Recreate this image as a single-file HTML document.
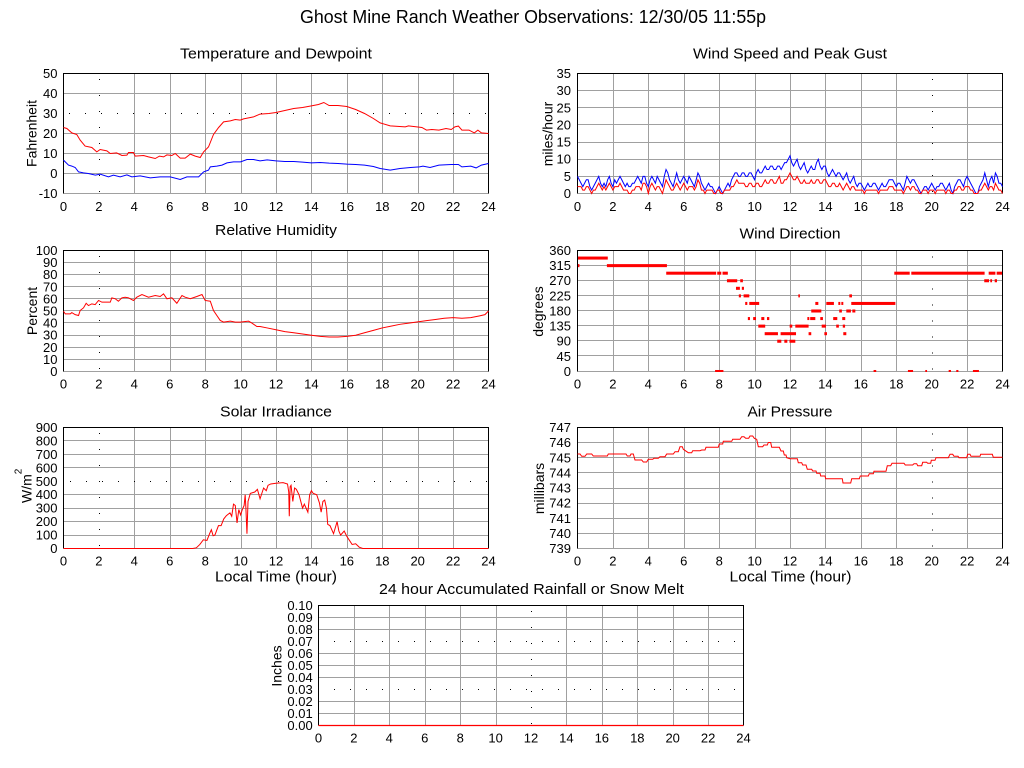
<!DOCTYPE html>
<html><head><meta charset="utf-8"><style>
html,body{margin:0;padding:0;background:#fff}
svg{display:block}
.g{stroke:#a0a0a0;stroke-width:1;fill:none;shape-rendering:crispEdges}
.d{stroke:#000;stroke-width:1;fill:none;stroke-dasharray:1 15;shape-rendering:crispEdges}
.f{stroke:#000;stroke-width:1;fill:none;shape-rendering:crispEdges}
.r{stroke:#f00;stroke-width:1;fill:none;vector-effect:non-scaling-stroke}
.b{stroke:#00f;stroke-width:1;fill:none;vector-effect:non-scaling-stroke}
text{fill:#000}
.t{font-size:13px}
.yl text{text-anchor:end}
.xl text{text-anchor:middle}
.pt{font-size:15px;text-anchor:middle}
.al{font-size:14px;text-anchor:middle}
</style></head><body>
<svg width="1024" height="768" viewBox="0 0 1024 768" font-family="'Liberation Sans', Arial, sans-serif">
<defs>
<clipPath id="c4"><rect x="577.5" y="250" width="425" height="122"/></clipPath>
</defs>

<text x="533" y="23" font-size="18" text-anchor="middle" textLength="466" lengthAdjust="spacingAndGlyphs">Ghost Mine Ranch Weather Observations: 12/30/05 11:55p</text>

<!-- ============ P1 Temperature ============ -->
<text class="pt" x="276" y="58.5" textLength="192" lengthAdjust="spacingAndGlyphs">Temperature and Dewpoint</text>
<path class="g" d="M134.5 73.5V193.5M170.5 73.5V193.5M205.5 73.5V193.5M241.5 73.5V193.5M276.5 73.5V193.5M311.5 73.5V193.5M347.5 73.5V193.5M382.5 73.5V193.5M418.5 73.5V193.5M453.5 73.5V193.5M63.5 93.5H488.5M63.5 133.5H488.5M63.5 153.5H488.5M63.5 173.5H488.5M63.5 193.5H488.5"/>
<path class="d" d="M99.5 79V193.5M69 113.5H488.5"/>
<path class="f" d="M63.5 193.5V73.5H488.5V193.5"/>
<g transform="translate(63.5,173.5) scale(17.708,-2)">
<polyline class="r" points="0,23 0.19,22.5 0.47,20.3 0.75,19.5 0.94,16.7 1.22,13.7 1.6,13 1.88,10.8 2.07,12 2.45,11.3 2.64,10 3,10.3 3.3,9 3.58,9.2 3.67,10.5 3.95,10.5 4.05,8.7 4.52,9 4.8,8.3 5.18,7.5 5.42,8.7 5.65,8.3 5.84,9.3 6.12,9 6.31,10 6.59,7.7 6.87,7.7 7.16,9.7 7.44,8.7 7.72,8 7.91,10.8 8.19,13.3 8.47,19.5 8.76,23 9.04,25.8 9.42,26.3 9.7,27 9.98,26.7 10.17,27.3 10.73,28.3 11.1,29.7 11.6,30 12,30.5 12.5,31.5 13,32.5 13.5,33 14,33.8 14.4,34.5 14.7,35.5 15,34 15.5,34 16,33.5 16.5,32 17,30 17.5,27.5 17.88,25.3 18.45,23.8 19.3,23.3 19.48,23.8 20.24,23 20.5,21.7 20.8,22 21.2,21.7 21.6,22.5 21.9,22 22.1,23.3 22.3,23.7 22.5,21.7 22.9,21.7 23.2,20.3 23.4,21.7 23.6,20.3 24,20"/>
<polyline class="b" points="0,6.7 0.28,4.2 0.47,3.7 0.66,3 0.85,0.8 1.13,0.3 1.4,0 1.8,-0.8 2.07,-0.3 2.54,-1.7 2.82,-0.8 3.2,-1.7 3.58,-0.7 3.86,-1.7 4.33,-1.2 4.9,-2.2 5.46,-1.7 6.03,-1.7 6.59,-3 6.97,-1.7 7.63,-1.7 7.91,0.8 8.19,1.7 8.29,3.3 8.66,3.7 8.95,4.2 9.23,5.3 9.6,5.8 10,5.8 10.36,7 10.73,7 11.1,6.3 11.5,6.8 12,6.3 12.5,6 13,6 13.5,5.7 14,5.3 14.5,5.5 15,5.2 15.5,5 16,4.7 16.5,4.5 17,4.2 17.5,3.5 17.88,2.5 18.45,1.7 19,2.5 19.6,3 20.1,3.3 20.3,3.7 20.7,3 21.2,4.2 21.9,4.5 22.3,4.5 22.5,3.3 23,3.7 23.3,2.8 23.6,4.2 24,5"/>
</g>
<g class="t yl"><text x="57.5" y="78">50</text><text x="57.5" y="98">40</text><text x="57.5" y="118">30</text><text x="57.5" y="138">20</text><text x="57.5" y="158">10</text><text x="57.5" y="178">0</text><text x="57.5" y="198">-10</text></g>
<g class="t xl"><text x="63.5" y="211">0</text><text x="98.9" y="211">2</text><text x="134.3" y="211">4</text><text x="169.8" y="211">6</text><text x="205.2" y="211">8</text><text x="240.6" y="211">10</text><text x="276" y="211">12</text><text x="311.4" y="211">14</text><text x="346.8" y="211">16</text><text x="382.3" y="211">18</text><text x="417.7" y="211">20</text><text x="453.1" y="211">22</text><text x="488.5" y="211">24</text></g>
<text class="al" transform="translate(36.5,133.5) rotate(-90)">Fahrenheit</text>

<!-- ============ P2 Wind speed ============ -->
<text class="pt" x="790" y="58.5" textLength="194" lengthAdjust="spacingAndGlyphs">Wind Speed and Peak Gust</text>
<path class="g" d="M613.5 73.5V193.5M648.5 73.5V193.5M684.5 73.5V193.5M719.5 73.5V193.5M755.5 73.5V193.5M790.5 73.5V193.5M825.5 73.5V193.5M861.5 73.5V193.5M896.5 73.5V193.5M967.5 73.5V193.5M577.5 90.5H1002.5M577.5 107.5H1002.5M577.5 124.5H1002.5M577.5 142.5H1002.5M577.5 159.5H1002.5M577.5 176.5H1002.5M577.5 193.5H1002.5"/>
<path class="d" d="M932.5 79V193.5"/>
<path class="f" d="M577.5 193.5V73.5H1002.5V193.5"/>
<g transform="translate(577.5,193.5) scale(17.708,-3.4286)">
<polyline class="b" points="0,5 0.1,4 0.2,3 0.3,2 0.4,3 0.5,4 0.6,4 0.7,2 0.8,1 0.9,2 1,3 1.1,4 1.2,5 1.3,3 1.4,2 1.5,3 1.6,2 1.7,4 1.8,5 1.9,3 2,2 2.1,4 2.2,3 2.3,4 2.4,5 2.5,4 2.6,3 2.7,2 2.8,3 2.9,2 3,2 3.1,3 3.2,3 3.3,4 3.4,5 3.5,4 3.6,3 3.7,5 3.8,5 3.9,3 4,2 4.1,4 4.2,5 4.3,4 4.4,3 4.5,5 4.6,4 4.7,3 4.8,2 4.9,5 5,7 5.1,6 5.2,4 5.3,3 5.4,2 5.5,4 5.6,6 5.7,4 5.8,3 5.9,4 6,5 6.1,4 6.2,3 6.3,5 6.4,4 6.5,3 6.6,2 6.7,4 6.8,6 6.9,5 7,3 7.1,2 7.2,1 7.3,2 7.4,3 7.5,2 7.6,2 7.7,1 7.8,0 7.9,1 8,2 8.1,1 8.2,0 8.3,1 8.4,2 8.5,3 8.6,2 8.7,4 8.8,5 8.9,6 9,6 9.1,5 9.2,5 9.3,6 9.4,6 9.5,5 9.6,5 9.7,6 9.8,6 9.9,5 10,4 10.1,6 10.2,7 10.3,6 10.4,6 10.5,7 10.6,8 10.7,7 10.8,7 10.9,8 11,8 11.1,7 11.2,7 11.3,8 11.4,8 11.5,7 11.6,8 11.7,9 11.8,9 11.9,10 12,11 12.1,9 12.2,8 12.3,9 12.4,10 12.5,8 12.6,7 12.7,8 12.8,9 12.9,7 13,6 13.1,7 13.2,8 13.3,7 13.4,7 13.5,9 13.6,10 13.7,8 13.8,7 13.9,8 14,8 14.1,6 14.2,5 14.3,6 14.4,7 14.5,6 14.6,5 14.7,6 14.8,6 14.9,5 15,4 15.1,5 15.2,6 15.3,4 15.4,3 15.5,4 15.6,5 15.7,3 15.8,2 15.9,3 16,3 16.1,2 16.2,1 16.3,2 16.4,3 16.5,2 16.6,2 16.7,3 16.8,3 16.9,2 17,1 17.1,2 17.2,3 17.3,2 17.4,2 17.5,3 17.6,4 17.7,4 17.8,4 17.9,3 18,2 18.1,3 18.2,3 18.3,2 18.4,1 18.5,3 18.6,5 18.7,4 18.8,3 18.9,4 19,4 19.1,3 19.2,2 19.3,1 19.4,0 19.5,1 19.6,2 19.7,2 19.8,1 19.9,2 20,3 20.1,2 20.2,1 20.3,2 20.4,2 20.5,3 20.6,3 20.7,2 20.8,1 20.9,2 21,3 21.1,1 21.2,0 21.3,2 21.4,3 21.5,4 21.6,4 21.7,3 21.8,2 21.9,4 22,5 22.1,4 22.2,3 22.3,2 22.4,1 22.5,0 22.6,0 22.7,2 22.8,3 22.9,4 23,6 23.1,4 23.2,2 23.3,4 23.4,5 23.5,3 23.6,6 23.7,5 23.8,3 23.9,3 24,2"/>
<polyline class="r" points="0,2 0.1,2 0.2,2 0.3,1 0.4,1 0.5,2 0.6,2 0.7,1 0.8,0 0.9,1 1,1 1.1,2 1.2,3 1.3,2 1.4,1 1.5,2 1.6,1 1.7,2 1.8,3 1.9,2 2,1 2.1,2 2.2,2 2.3,2 2.4,3 2.5,2 2.6,1 2.7,1 2.8,1 2.9,0 3,0 3.1,1 3.2,1 3.3,2 3.4,2 3.5,2 3.6,1 3.7,3 3.8,3 3.9,2 4,0 4.1,2 4.2,3 4.3,2 4.4,1 4.5,2 4.6,2 4.7,1 4.8,0 4.9,2 5,4 5.1,3 5.2,2 5.3,1 5.4,1 5.5,2 5.6,3 5.7,2 5.8,1 5.9,2 6,3 6.1,2 6.2,1 6.3,2 6.4,2 6.5,2 6.6,1 6.7,2 6.8,4 6.9,3 7,1 7.1,1 7.2,0 7.3,1 7.4,1 7.5,1 7.6,1 7.7,0 7.8,0 7.9,1 8,1 8.1,0 8.2,0 8.3,1 8.4,1 8.5,1 8.6,1 8.7,2 8.8,2 8.9,3 9,4 9.1,3 9.2,3 9.3,3 9.4,3 9.5,2 9.6,2 9.7,3 9.8,3 9.9,2 10,2 10.1,3 10.2,3 10.3,2 10.4,2 10.5,3 10.6,4 10.7,3 10.8,3 10.9,4 11,4 11.1,3 11.2,3 11.3,4 11.4,5 11.5,3 11.6,3 11.7,4 11.8,4 11.9,5 12,6 12.1,5 12.2,4 12.3,4 12.4,5 12.5,4 12.6,3 12.7,3 12.8,4 12.9,3 13,3 13.1,3 13.2,4 13.3,3 13.4,3 13.5,4 13.6,4 13.7,3 13.8,3 13.9,4 14,4 14.1,3 14.2,2 14.3,2 14.4,3 14.5,3 14.6,2 14.7,2 14.8,3 14.9,2 15,1 15.1,2 15.2,3 15.3,2 15.4,1 15.5,2 15.6,2 15.7,1 15.8,1 15.9,1 16,1 16.1,1 16.2,0 16.3,1 16.4,1 16.5,1 16.6,1 16.7,1 16.8,1 16.9,1 17,0 17.1,1 17.2,1 17.3,1 17.4,1 17.5,1 17.6,2 17.7,2 17.8,2 17.9,1 18,1 18.1,1 18.2,1 18.3,1 18.4,0 18.5,1 18.6,2 18.7,2 18.8,1 18.9,2 19,2 19.1,1 19.2,1 19.3,0 19.4,0 19.5,1 19.6,1 19.7,1 19.8,0 19.9,1 20,1 20.1,1 20.2,0 20.3,1 20.4,1 20.5,1 20.6,1 20.7,1 20.8,0 20.9,1 21,1 21.1,0 21.2,0 21.3,1 21.4,1 21.5,2 21.6,2 21.7,1 21.8,1 21.9,2 22,2 22.1,2 22.2,1 22.3,1 22.4,0 22.5,0 22.6,0 22.7,1 22.8,1 22.9,2 23,3 23.1,2 23.2,1 23.3,2 23.4,2 23.5,1 23.6,3 23.7,2 23.8,1 23.9,1 24,0"/>
</g>
<g class="t yl"><text x="571" y="78">35</text><text x="571" y="95.1">30</text><text x="571" y="112.3">25</text><text x="571" y="129.4">20</text><text x="571" y="146.6">15</text><text x="571" y="163.7">10</text><text x="571" y="180.9">5</text><text x="571" y="198">0</text></g>
<g class="t xl"><text x="577.5" y="211">0</text><text x="612.9" y="211">2</text><text x="648.3" y="211">4</text><text x="683.8" y="211">6</text><text x="719.2" y="211">8</text><text x="754.6" y="211">10</text><text x="790" y="211">12</text><text x="825.4" y="211">14</text><text x="860.8" y="211">16</text><text x="896.3" y="211">18</text><text x="931.7" y="211">20</text><text x="967.1" y="211">22</text><text x="1002.5" y="211">24</text></g>
<text class="al" transform="translate(552.5,134) rotate(-90)">miles/hour</text>

<!-- ============ P3 RH ============ -->
<text class="pt" x="276" y="235" textLength="122" lengthAdjust="spacingAndGlyphs">Relative Humidity</text>
<path class="g" d="M134.5 250.5V371.5M170.5 250.5V371.5M205.5 250.5V371.5M241.5 250.5V371.5M276.5 250.5V371.5M311.5 250.5V371.5M347.5 250.5V371.5M382.5 250.5V371.5M418.5 250.5V371.5M453.5 250.5V371.5M63.5 262.5H488.5M63.5 274.5H488.5M63.5 286.5H488.5M63.5 298.5H488.5M63.5 310.5H488.5M63.5 322.5H488.5M63.5 335.5H488.5M63.5 347.5H488.5M63.5 359.5H488.5M63.5 371.5H488.5"/>
<path class="d" d="M99.5 256V371.5"/>
<path class="f" d="M63.5 371.5V250.5H488.5V371.5"/>
<g transform="translate(63.5,371.5) scale(17.708,-1.21)">
<polyline class="r" points="0,49.8 0.1,47.6 0.38,47.6 0.47,48.7 0.66,47 0.85,46.3 0.94,50.4 1.13,52.6 1.28,56.4 1.41,54.5 1.6,55.9 1.79,55.3 1.98,58.7 2.17,57.3 2.64,57.3 2.73,60.9 2.92,60.1 3.1,58.1 3.3,60.9 3.48,61.4 3.67,60.9 3.95,58.7 4.14,61.4 4.43,63.6 4.8,61.4 5.18,62.8 5.46,62 5.65,64.2 5.84,60.1 6.12,60.9 6.4,56.4 6.69,62.8 6.87,61.4 7.16,60.1 7.53,62 7.82,63.6 8,58.7 8.29,58.1 8.47,50.4 8.66,46.3 8.85,42.2 9.04,40.8 9.42,41.6 9.7,40.8 9.98,40.8 10.45,41.6 10.64,40 10.92,37.2 11.1,37.2 11.5,36 12,34.5 12.5,33 13,32 13.5,31 14,30 14.5,29 15,28.5 15.5,28.5 16,29 16.5,30 17,32 17.5,34 18,36 18.5,37.5 19,39 19.5,40 20,41 20.5,42 21,43 21.5,44 22,44.5 22.5,44 23,44.5 23.5,46 23.8,47 24,50"/>
</g>
<g class="t yl"><text x="57.5" y="255">100</text><text x="57.5" y="267.1">90</text><text x="57.5" y="279.2">80</text><text x="57.5" y="291.3">70</text><text x="57.5" y="303.4">60</text><text x="57.5" y="315.5">50</text><text x="57.5" y="327.6">40</text><text x="57.5" y="339.7">30</text><text x="57.5" y="351.8">20</text><text x="57.5" y="363.9">10</text><text x="57.5" y="376">0</text></g>
<g class="t xl"><text x="63.5" y="388.5">0</text><text x="98.9" y="388.5">2</text><text x="134.3" y="388.5">4</text><text x="169.8" y="388.5">6</text><text x="205.2" y="388.5">8</text><text x="240.6" y="388.5">10</text><text x="276" y="388.5">12</text><text x="311.4" y="388.5">14</text><text x="346.8" y="388.5">16</text><text x="382.3" y="388.5">18</text><text x="417.7" y="388.5">20</text><text x="453.1" y="388.5">22</text><text x="488.5" y="388.5">24</text></g>
<text class="al" transform="translate(37,311) rotate(-90)">Percent</text>

<!-- ============ P4 Wind direction ============ -->
<text class="pt" x="790" y="238.5" textLength="101" lengthAdjust="spacingAndGlyphs">Wind Direction</text>
<path class="g" d="M613.5 250.5V371.5M648.5 250.5V371.5M684.5 250.5V371.5M719.5 250.5V371.5M755.5 250.5V371.5M790.5 250.5V371.5M825.5 250.5V371.5M861.5 250.5V371.5M896.5 250.5V371.5M967.5 250.5V371.5M577.5 265.5H1002.5M577.5 280.5H1002.5M577.5 295.5H1002.5M577.5 310.5H1002.5M577.5 325.5H1002.5M577.5 340.5H1002.5M577.5 355.5H1002.5M577.5 371.5H1002.5"/>
<path class="d" d="M932.5 256.5V371.5"/>
<g clip-path="url(#c4)"><g transform="translate(577.5,371.5) scale(17.708,-0.33611)" fill="#f00">
<rect x="0" y="333" width="1.71" height="9"/>
<rect x="0" y="310.5" width="0.11" height="9"/><rect x="1.66" y="310.5" width="3.39" height="9"/>
<rect x="5.01" y="288" width="2.82" height="9"/><rect x="7.89" y="288" width="0.23" height="9"/><rect x="8.19" y="288" width="0.3" height="9"/><rect x="17.89" y="288" width="0.87" height="9"/><rect x="18.85" y="288" width="4.14" height="9"/><rect x="23.22" y="288" width="0.38" height="9"/><rect x="23.67" y="288" width="0.36" height="9"/>
<rect x="8.44" y="265.5" width="0.58" height="9"/><rect x="9.19" y="265.5" width="0.15" height="9"/><rect x="22.97" y="265.5" width="0.27" height="9"/><rect x="23.31" y="265.5" width="0.1" height="9"/><rect x="23.56" y="265.5" width="0.13" height="9"/>
<rect x="8.95" y="243" width="0.22" height="9"/><rect x="9.28" y="243" width="0.12" height="9"/>
<rect x="9.11" y="220.5" width="0.12" height="9"/><rect x="9.38" y="220.5" width="0.32" height="9"/><rect x="12.47" y="220.5" width="0.09" height="9"/><rect x="15.35" y="220.5" width="0.15" height="9"/>
<rect x="9.47" y="198" width="0.12" height="9"/><rect x="9.7" y="198" width="0.56" height="9"/><rect x="13.43" y="198" width="0.17" height="9"/><rect x="14.05" y="198" width="0.43" height="9"/><rect x="14.73" y="198" width="0.11" height="9"/><rect x="14.9" y="198" width="0.11" height="9"/><rect x="15.46" y="198" width="2.49" height="9"/>
<rect x="13.2" y="175.5" width="0.57" height="9"/><rect x="14.78" y="175.5" width="0.15" height="9"/><rect x="15.18" y="175.5" width="0.26" height="9"/><rect x="15.52" y="175.5" width="0.17" height="9"/>
<rect x="9.62" y="153" width="0.12" height="9"/><rect x="9.92" y="153" width="0.16" height="9"/><rect x="10.38" y="153" width="0.17" height="9"/><rect x="10.7" y="153" width="0.13" height="9"/><rect x="12.98" y="153" width="0.11" height="9"/><rect x="13.14" y="153" width="0.29" height="9"/><rect x="13.71" y="153" width="0.15" height="9"/><rect x="14.44" y="153" width="0.23" height="9"/><rect x="14.95" y="153" width="0.17" height="9"/>
<rect x="10.21" y="130.5" width="0.39" height="9"/><rect x="11.98" y="130.5" width="0.15" height="9"/><rect x="12.3" y="130.5" width="0.75" height="9"/><rect x="13.79" y="130.5" width="0.24" height="9"/><rect x="14.61" y="130.5" width="0.15" height="9"/><rect x="14.98" y="130.5" width="0.13" height="9"/>
<rect x="10.57" y="108" width="0.75" height="9"/><rect x="11.47" y="108" width="0.87" height="9"/><rect x="13.05" y="108" width="0.15" height="9"/><rect x="13.94" y="108" width="0.15" height="9"/><rect x="15.01" y="108" width="0.17" height="9"/>
<rect x="11.28" y="85.5" width="0.23" height="9"/><rect x="11.68" y="85.5" width="0.17" height="9"/><rect x="11.97" y="85.5" width="0.33" height="9"/>
<rect x="7.77" y="-4.5" width="0.47" height="9"/><rect x="16.72" y="-4.5" width="0.15" height="9"/><rect x="18.66" y="-4.5" width="0.29" height="9"/><rect x="19.64" y="-4.5" width="0.1" height="9"/><rect x="20.96" y="-4.5" width="0.13" height="9"/><rect x="21.39" y="-4.5" width="0.12" height="9"/><rect x="22.33" y="-4.5" width="0.34" height="9"/>
</g></g>
<path class="f" d="M577.5 371.5V250.5H1002.5V371.5"/>
<g class="t yl"><text x="571" y="255">360</text><text x="571" y="270.1">315</text><text x="571" y="285.2">270</text><text x="571" y="300.4">225</text><text x="571" y="315.5">180</text><text x="571" y="330.6">135</text><text x="571" y="345.7">90</text><text x="571" y="360.9">45</text><text x="571" y="376">0</text></g>
<g class="t xl"><text x="577.5" y="388.5">0</text><text x="612.9" y="388.5">2</text><text x="648.3" y="388.5">4</text><text x="683.8" y="388.5">6</text><text x="719.2" y="388.5">8</text><text x="754.6" y="388.5">10</text><text x="790" y="388.5">12</text><text x="825.4" y="388.5">14</text><text x="860.8" y="388.5">16</text><text x="896.3" y="388.5">18</text><text x="931.7" y="388.5">20</text><text x="967.1" y="388.5">22</text><text x="1002.5" y="388.5">24</text></g>
<text class="al" transform="translate(543,311.5) rotate(-90)">degrees</text>

<!-- ============ P5 Solar ============ -->
<text class="pt" x="276" y="416.5" textLength="112" lengthAdjust="spacingAndGlyphs">Solar Irradiance</text>
<path class="g" d="M134.5 427.5V548.5M170.5 427.5V548.5M205.5 427.5V548.5M241.5 427.5V548.5M276.5 427.5V548.5M311.5 427.5V548.5M347.5 427.5V548.5M382.5 427.5V548.5M418.5 427.5V548.5M453.5 427.5V548.5M63.5 440.5H488.5M63.5 454.5H488.5M63.5 467.5H488.5M63.5 494.5H488.5M63.5 508.5H488.5M63.5 521.5H488.5M63.5 535.5H488.5M63.5 548.5H488.5"/>
<path class="d" d="M99.5 433V548.5M70 481.5H488.5"/>
<path class="f" d="M63.5 548.5V427.5H488.5V548.5"/>
<g transform="translate(63.5,548.5) scale(17.708,-0.13444)">
<polyline class="r" points="0,0 7.3,0 7.5,5 7.7,30 7.9,65 8.1,60 8.25,110 8.35,140 8.45,95 8.55,100 8.75,170 8.9,170 9.05,220 9.2,245 9.4,265 9.5,240 9.6,330 9.7,320 9.8,190 9.9,290 10,250 10.1,290 10.2,320 10.26,400 10.3,300 10.36,110 10.42,350 10.55,410 10.8,420 10.95,440 11.1,370 11.2,410 11.3,450 11.45,430 11.55,470 11.7,480 12,485 12.4,490 12.65,480 12.72,420 12.75,240 12.8,460 12.85,470 12.95,350 13.05,450 13.15,440 13.3,400 13.5,300 13.6,330 13.7,300 13.8,270 13.9,400 14,430 14.1,410 14.3,400 14.45,340 14.55,270 14.65,350 14.75,360 14.85,300 14.92,180 15.05,170 15.25,110 15.45,200 15.55,130 15.65,100 15.85,130 16,90 16.15,60 16.3,30 16.5,35 16.7,10 16.9,0 24,0"/>
</g>
<g class="t yl"><text x="57.5" y="432">900</text><text x="57.5" y="445.4">800</text><text x="57.5" y="458.9">700</text><text x="57.5" y="472.3">600</text><text x="57.5" y="485.8">500</text><text x="57.5" y="499.2">400</text><text x="57.5" y="512.7">300</text><text x="57.5" y="526.1">200</text><text x="57.5" y="539.6">100</text><text x="57.5" y="553">0</text></g>
<g class="t xl"><text x="63.5" y="565.5">0</text><text x="98.9" y="565.5">2</text><text x="134.3" y="565.5">4</text><text x="169.8" y="565.5">6</text><text x="205.2" y="565.5">8</text><text x="240.6" y="565.5">10</text><text x="276" y="565.5">12</text><text x="311.4" y="565.5">14</text><text x="346.8" y="565.5">16</text><text x="382.3" y="565.5">18</text><text x="417.7" y="565.5">20</text><text x="453.1" y="565.5">22</text><text x="488.5" y="565.5">24</text></g>
<text font-size="14" transform="translate(31.5,503) rotate(-90)">W/m<tspan dy="-10" font-size="10">2</tspan></text>
<text class="pt" x="276" y="581.5" textLength="122" lengthAdjust="spacingAndGlyphs">Local Time (hour)</text>

<!-- ============ P6 Pressure ============ -->
<text class="pt" x="790" y="416.5" textLength="85" lengthAdjust="spacingAndGlyphs">Air Pressure</text>
<path class="g" d="M613.5 427.5V548.5M648.5 427.5V548.5M684.5 427.5V548.5M719.5 427.5V548.5M755.5 427.5V548.5M790.5 427.5V548.5M825.5 427.5V548.5M861.5 427.5V548.5M896.5 427.5V548.5M967.5 427.5V548.5M577.5 442.5H1002.5M577.5 457.5H1002.5M577.5 472.5H1002.5M577.5 488.5H1002.5M577.5 503.5H1002.5M577.5 518.5H1002.5M577.5 533.5H1002.5M577.5 548.5H1002.5"/>
<path class="d" d="M932.5 433.5V548.5"/>
<path class="f" d="M577.5 548.5V427.5H1002.5V548.5"/>
<polyline class="r" points="577.5,454 580,454 581.7,456.3 585,456.3 586.7,454 591.7,454 593.3,456 607.3,456 608.3,454 626,454 627.3,456 630,456 631,454 633.3,454 635,460 641.7,460 643.3,462 646.7,462 648.3,459.3 652.7,459.3 654,458.3 658.3,458.3 660,456.7 665,456.7 666.7,454 673.3,454 675,451.7 678.3,451.7 680,446.7 682.3,446.7 683.3,449.3 688.3,452.7 691.7,452.7 692.7,450.7 700,450.7 701.7,450 705,450 706,447.3 718.3,447.3 719.3,444 722.7,444 723.3,441.3 731.7,441.3 732.7,439.3 740,439.3 741.7,436.7 744,436.7 745.7,438.3 748.7,438.3 750,436 752.7,436 754.3,438.3 756.7,439.3 758.3,446.7 762.7,446.7 764,445 767.3,445 768.3,442.5 770.7,442.5 771.7,447.3 779.3,447.3 781,451 783.3,451 784.3,455 786,455 786.7,457.7 790,458.7 797.3,458.7 798.3,462.7 801.7,462.7 802.7,465 806,465 807.3,469.3 811.7,469.3 812.7,471 816,471 816.7,473.3 820,473.3 820.7,476 825,476 825.7,478.7 842.3,478.7 843,483 850.7,483 851.7,478.7 859.3,478.7 860.3,476 868.3,476 869.3,473.7 873.3,473.7 874,471.3 886,471.3 887.3,465.7 890.7,465.7 892,463.3 904,463.3 905.3,465 912.7,465 914,463.7 916.7,463.7 917.7,465.7 921.7,465.7 922.7,462.3 926.7,462.3 927.7,463.3 930.7,463.3 931.3,460.3 935,460.3 936,457.7 948.3,457.7 950,454.3 952.7,454.3 954,456.3 958,456.3 959,457.7 966.7,457.7 967.7,454.3 970,454.3 971,456.3 980,456.3 980.7,454.3 992.3,454.3 993.3,457.3 1002.5,457.3"/>
<g class="t yl"><text x="571" y="432">747</text><text x="571" y="447.1">746</text><text x="571" y="462.3">745</text><text x="571" y="477.4">744</text><text x="571" y="492.5">743</text><text x="571" y="507.6">742</text><text x="571" y="522.8">741</text><text x="571" y="537.9">740</text><text x="571" y="553">739</text></g>
<g class="t xl"><text x="577.5" y="565.5">0</text><text x="612.9" y="565.5">2</text><text x="648.3" y="565.5">4</text><text x="683.8" y="565.5">6</text><text x="719.2" y="565.5">8</text><text x="754.6" y="565.5">10</text><text x="790" y="565.5">12</text><text x="825.4" y="565.5">14</text><text x="860.8" y="565.5">16</text><text x="896.3" y="565.5">18</text><text x="931.7" y="565.5">20</text><text x="967.1" y="565.5">22</text><text x="1002.5" y="565.5">24</text></g>
<text class="al" transform="translate(544,488.5) rotate(-90)">millibars</text>
<text class="pt" x="790.5" y="581.5" textLength="122" lengthAdjust="spacingAndGlyphs">Local Time (hour)</text>

<!-- ============ P7 Rain ============ -->
<text class="pt" x="531.5" y="594" textLength="305" lengthAdjust="spacingAndGlyphs">24 hour Accumulated Rainfall or Snow Melt</text>
<path class="g" d="M354.5 605.5V725.5M389.5 605.5V725.5M425.5 605.5V725.5M460.5 605.5V725.5M496.5 605.5V725.5M566.5 605.5V725.5M602.5 605.5V725.5M637.5 605.5V725.5M673.5 605.5V725.5M708.5 605.5V725.5M318.5 617.5H743.5M318.5 629.5H743.5M318.5 653.5H743.5M318.5 665.5H743.5M318.5 677.5H743.5M318.5 701.5H743.5M318.5 713.5H743.5"/>
<path class="d" d="M531.5 611V725.5M334 641.5H743.5M334 689.5H743.5"/>
<path class="f" d="M318.5 725.5V605.5H743.5V725.5"/>
<path d="M318.5 725.5H743.5" stroke="#f00" stroke-width="1.3" fill="none"/>
<g class="t yl"><text x="312.7" y="610">0.10</text><text x="312.7" y="622">0.09</text><text x="312.7" y="634">0.08</text><text x="312.7" y="646">0.07</text><text x="312.7" y="658">0.06</text><text x="312.7" y="670">0.05</text><text x="312.7" y="682">0.04</text><text x="312.7" y="694">0.03</text><text x="312.7" y="706">0.02</text><text x="312.7" y="718">0.01</text><text x="312.7" y="730">0.00</text></g>
<g class="t xl"><text x="318.5" y="742.5">0</text><text x="353.9" y="742.5">2</text><text x="389.3" y="742.5">4</text><text x="424.8" y="742.5">6</text><text x="460.2" y="742.5">8</text><text x="495.6" y="742.5">10</text><text x="531" y="742.5">12</text><text x="566.4" y="742.5">14</text><text x="601.8" y="742.5">16</text><text x="637.3" y="742.5">18</text><text x="672.7" y="742.5">20</text><text x="708.1" y="742.5">22</text><text x="743.5" y="742.5">24</text></g>
<text class="al" transform="translate(281.5,666) rotate(-90)">Inches</text>
</svg>
</body></html>
